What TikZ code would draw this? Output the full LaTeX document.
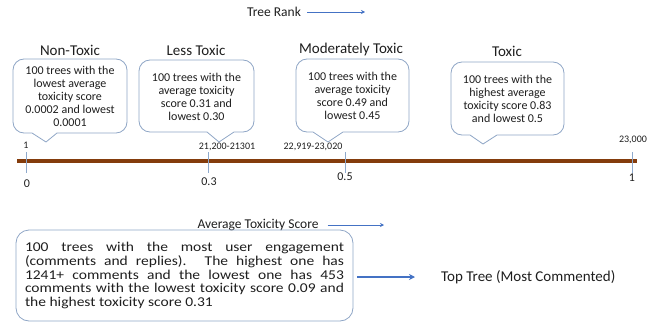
\documentclass[tikz,border=0pt]{standalone}
\usepackage{fontspec}
\setmainfont{Carlito}
\newfontfamily\boxfont{Carlito}[FakeStretch=1.15]
\usetikzlibrary{arrows.meta, positioning}
\definecolor{axisBrown}{HTML}{843C0C}
\definecolor{tickBlue}{HTML}{8EA9CC}
\definecolor{edgeBlue}{HTML}{8FA6C6}
\definecolor{arrowBlue}{HTML}{4472C4}
\definecolor{inkGrey}{HTML}{1E1E1E}
\tikzset{
  axisline/.style  = {axisBrown, line width=3.5pt},
  tickline/.style  = {tickBlue, line width=0.9pt},
  callout/.style   = {draw=edgeBlue, fill=white, line width=0.8pt},
  rankarrow/.style = {-{Stealth[length=4pt, width=4pt]}, arrowBlue, line width=0.8pt},
  bigarrow/.style  = {-{Stealth[length=6pt, width=6pt]}, arrowBlue, line width=1.8pt},
  ttl/.style       = {text=inkGrey, inner sep=0pt, font=\fontsize{15}{17}\selectfont},
  body/.style      = {text=inkGrey, inner sep=0pt, align=center, font=\fontsize{12}{13}\selectfont},
  lbl/.style       = {text=inkGrey, inner sep=0pt, font=\fontsize{13.5}{15}\selectfont},
  rnk/.style       = {text=inkGrey, inner sep=0pt, font=\fontsize{10}{12}\selectfont},
  sc/.style        = {text=inkGrey, inner sep=0pt, font=\fontsize{12}{14}\selectfont},
}

\begin{document}
\lineskiplimit=-6pt
\begin{tikzpicture}[x=1pt, y=-1pt]
  \useasboundingbox (0,0) rectangle (650,324);

  % rank heading
  \node[lbl] (rank) at (274,12) {Tree Rank};
  \coordinate (rankend) at (365,12);
  \draw[rankarrow] ([xshift=6pt]rank.east) -- (rankend);

  % callouts: left/right/top/bottom, pointer base and tip
  \foreach \l/\r/\t/\b/\pa/\tip/\pb/\ty in {13/127/59/133/32/46/57/142,
      139/254/60/132/207/219/234/142, 296/409/59/132/313/328/343/142,
      451/564/62/135/470/483/497/144} {
    \draw[callout] (\pa,\b) -- (\tip,\ty) -- (\pb,\b) [rounded corners=11pt] -- (\r,\b)
      -- (\r,\t) -- (\l,\t) -- (\l,\b) [sharp corners] -- cycle;
  }

  \node[ttl] (ttl1) at (70,50) {Non-Toxic};
  \node[ttl] (ttl2) at (196,50) {Less Toxic};
  \node[ttl] (ttl3) at (351,50) {Moderately Toxic};
  \node[ttl] (ttl4) at (507,51) {Toxic};

  \node[body] (nontox) at (70,96.5)
    {100 trees with the\\lowest average\\toxicity score\\0.0002 and lowest\\0.0001};
  \node[body] (lesstox) at (196.5,96.5)
    {100 trees with the\\average toxicity\\score 0.31 and\\lowest 0.30};
  \node[body] (modtox) at (352.5,95.5)
    {100 trees with the\\average toxicity\\score 0.49 and\\lowest 0.45};
  \node[body] (tox) at (507.5,98.5)
    {100 trees with the\\highest average\\toxicity score 0.83\\and lowest 0.5};

  % axis
  \draw[axisline] (17,161) -- (637,161);
  \foreach \x in {26,208,345,632}
    \draw[tickline] (\x,152) -- (\x,173);

  \node[rnk] (r1) at (26,145) {1};
  \node[rnk] (r2) at (227,147) {21,200-21301};
  \node[rnk] (r3) at (313,147) {22,919-23,020};
  \node[rnk] (r4) at (633,140) {23,000};

  \node[sc] (s0) at (27,184) {0};
  \node[sc] (s1) at (209,182) {0.3};
  \node[sc] (s2) at (345,177) {0.5};
  \node[sc] (s3) at (632,178) {1};

  \node[lbl] (avg) at (258,225) {Average Toxicity Score};
  \coordinate (avgend) at (384,225);
  \draw[rankarrow] ([xshift=9pt]avg.east) -- (avgend);

  % most commented
  \node[draw=edgeBlue, line width=0.8pt, rounded corners=13pt, text=inkGrey,
        minimum width=337pt, minimum height=91pt, inner xsep=9pt, inner ysep=0pt,
        text width=319pt, align=justify,
        font=\boxfont\fontsize{13.5}{13.75}\selectfont] (engbox) at (184.5,275.5)
    {100 trees with the most user engagement\linebreak
     (comments and replies). The highest one has\linebreak
     1241+ comments and the lowest one has 453\linebreak
     comments with the lowest toxicity score 0.09 and\linebreak
     the highest toxicity score 0.31};
  \node[ttl, anchor=west] (top) at (441,277) {Top Tree (Most Commented)};
  \draw[bigarrow] ([xshift=4pt]engbox.east |- top.west) -- ([xshift=-26pt]top.west);
\end{tikzpicture}
\end{document}
